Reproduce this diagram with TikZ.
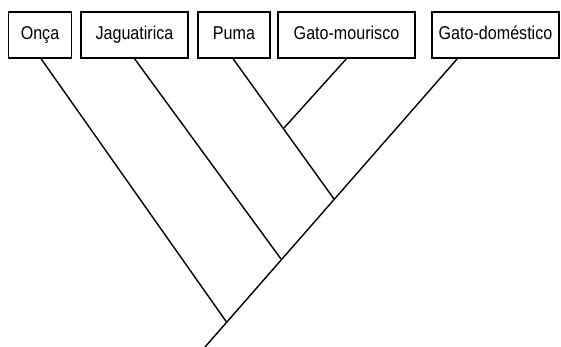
\documentclass[tikz,border=0pt]{standalone}
\usepackage{fontspec}
\setmainfont{Liberation Sans}[FakeStretch=0.87]
\usepackage{tikz}

\begin{document}
\begin{tikzpicture}[x=1pt,y=-1pt]
		\useasboundingbox (0,0) rectangle (561,347);
		\tikzset{
			taxon/.style={draw=black, line width=1.3pt, inner sep=0pt, minimum height=46pt, text height=13pt, text depth=4pt, fill=white, font=\fontsize{18.5}{20}\selectfont},
			branch/.style={line width=1.4pt, black}
		}
		 \foreach \x/\w/\alph/\name in {
			40/63/onca/Onça,
		  	134.5/107/jag/Jaguatirica,
		  	234/72/puma/Puma,
		  	346.5/137/mour/Gato-mourisco,
		  	495.5/127/dom/Gato-doméstico
		 }{
		 	\node[taxon, minimum width=\w pt] (\alph) at (\x,35) {\name};
		 }
		 \coordinate (j1) at (284,128);
		 \coordinate (j2) at (334,199);
		 \coordinate (j3) at (281,259);
		 \coordinate (j4) at (226.5,322);
		 \coordinate (root) at (205,347);
		 \draw[branch] ([xshift=1pt]onca.south) -- (j4);
		 \draw[branch] (jag.south) -- (j3);
		 \draw[branch] ([xshift=-1pt]puma.south) -- (j2);
		 \draw[branch] (mour.south) -- (j1);
		 \draw[branch] ([xshift=26pt]dom.south west) -- (root);
	\end{tikzpicture}
\end{document}
